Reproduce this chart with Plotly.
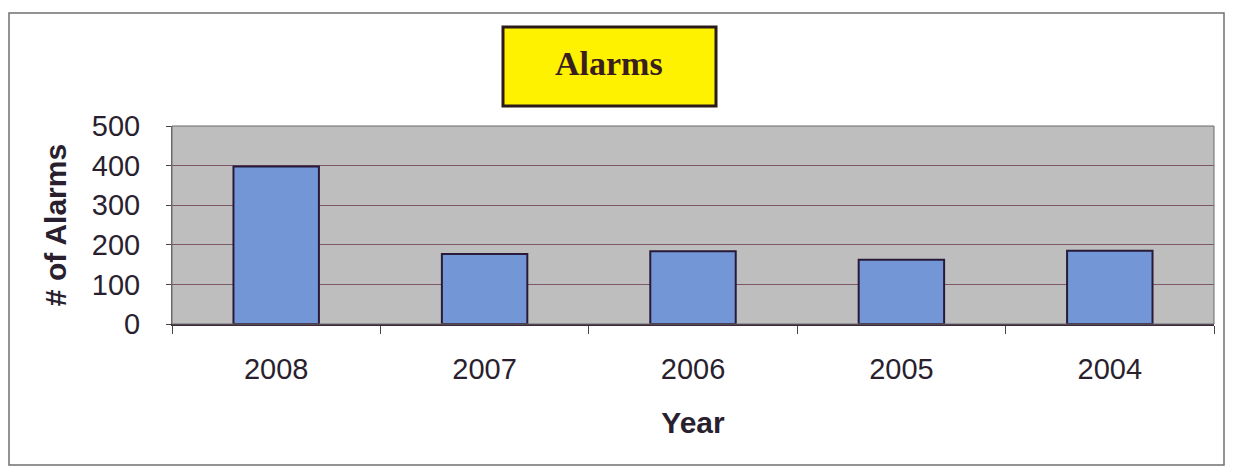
import plotly.graph_objects as go

years = ["2008", "2007", "2006", "2005", "2004"]
alarms = [398, 177, 184, 162, 185]
y_ticks = [0, 100, 200, 300, 400, 500]

# page offset (default body margin) compensated
OFF = 8
W, H = 1234 - 2 * OFF, 474 - 2 * OFF
L, T = 172 - OFF, 126 - OFF
R = W - (1214 - OFF)
B = H - (324 - OFF)
pw, ph = W - L - R, H - T - B

def px(x):
    return (x - OFF - L) / pw

def py(y):
    return (H - B - (y - OFF)) / ph

fig = go.Figure()
fig.add_trace(go.Bar(
    x=years, y=alarms, width=0.41,
    marker=dict(color="#7397D6", line=dict(color="#2A1A3A", width=2)),
))

fig.update_layout(
    width=W, height=H,
    margin=dict(l=L, r=R, t=T, b=B),
    paper_bgcolor="white",
    plot_bgcolor="#BEBEBE",
    showlegend=False,
    font=dict(family="Liberation Sans, Arial", color="#2A1F2F"),
)
fig.update_xaxes(
    type="category", tickson="boundaries", ticks="outside", ticklen=8,
    tickcolor="#444", tickfont=dict(size=29, color="#2A1F2F"),
    ticklabelstandoff=18,
    showgrid=False, showline=True, linecolor="#3A2A3A", linewidth=1.5,
    title=dict(text="<b>Year</b>", font=dict(size=30, color="#2A1F2F"), standoff=28),
)
fig.update_yaxes(
    range=[0, 500], tickvals=y_ticks, ticks="outside", ticklen=5,
    tickcolor="#444", tickfont=dict(size=29, color="#2A1F2F"),
    ticklabelstandoff=20,
    showgrid=True, gridcolor="#80566A", gridwidth=1.3,
    showline=True, linecolor="#666", linewidth=1, zeroline=False,
    title=dict(text="<b># of Alarms</b>", font=dict(size=30, color="#2A1F2F"), standoff=16),
)
# plot area border
fig.add_shape(type="rect", xref="paper", yref="paper", x0=0, x1=1, y0=0, y1=1,
              line=dict(color="#6A6A6A", width=1), layer="above")
# outer chart border
fig.add_shape(type="rect", xref="paper", yref="paper",
              x0=px(9), x1=px(1224), y0=py(465), y1=py(13),
              line=dict(color="#707070", width=1.5))
# title box
fig.add_shape(type="rect", xref="paper", yref="paper",
              x0=px(503), x1=px(716), y0=py(106), y1=py(27),
              fillcolor="#FFF200", line=dict(color="#2A1A1A", width=3))
fig.add_annotation(xref="paper", yref="paper", x=px(609), y=py(63),
                   xanchor="center", yanchor="middle",
                   text="<b>Alarms</b>", showarrow=False,
                   font=dict(family="Liberation Serif, Times New Roman", size=34, color="#3A1F1F"))

fig.write_html("out.html")
